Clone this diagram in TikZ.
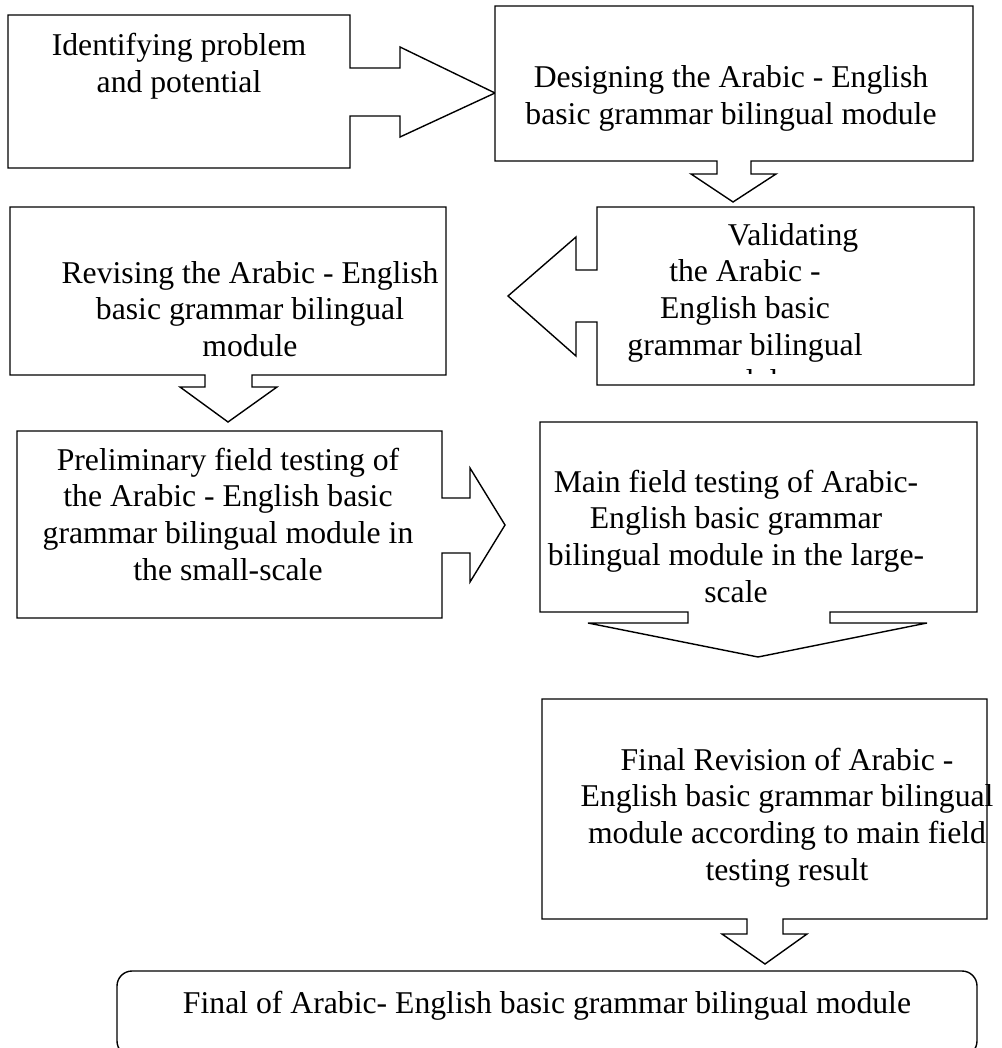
\documentclass[tikz,border=0pt]{standalone}
\usepackage{fontspec}
\setmainfont{Liberation Serif}
\newcommand\mylines[1]{\begin{tabular}[t]{@{}c@{}}#1\end{tabular}}
\tikzset{
  shp/.style={draw=black, line width=0.7pt, line join=miter, fill=white},
  txt/.style={font=\fontsize{15.85}{18.35}\selectfont, inner sep=0pt, anchor=base, text=black}
}
\begin{document}
\begin{tikzpicture}[x=0.5pt,y=-0.5pt]
\clip (0,0) rectangle (1001,1048);
\fill[white] (0,0) rectangle (1001,1048);
% 1 Identifying (right arrow callout)
\draw[shp] (8,15) -- (350,15) -- (350,68) -- (400,68) -- (400,47) -- (495,93) -- (400,137) -- (400,116) -- (350,116) -- (350,168) -- (8,168) -- cycle;
\node[txt] (t1) at (179,56) {\mylines{Identifying problem\\and potential}};
% 2 Designing (down arrow callout)
\draw[shp] (495,6) -- (973,6) -- (973,161) -- (751,161) -- (751,174) -- (776,174) -- (733,202) -- (691,174) -- (717,174) -- (717,161) -- (495,161) -- cycle;
\node[txt] (t2) at (731,88) {\mylines{Designing the Arabic - English\\basic grammar bilingual module}};
% 3 Validating (left arrow callout)
\draw[shp] (597,207) -- (974,207) -- (974,385) -- (597,385) -- (597,322) -- (576,322) -- (576,356) -- (508,296) -- (576,237) -- (576,270) -- (597,270) -- cycle;
\begin{scope}
\clip (597,207) rectangle (974,373);
\node[txt] (t3) at (745,245) {\mylines{\hspace*{48pt}Validating\\the Arabic -\\English basic\\grammar bilingual\\module}};
\end{scope}
% 4 Revising (down arrow callout)
\draw[shp] (10,207) -- (446,207) -- (446,375) -- (252,375) -- (252,387) -- (277,387) -- (228,422) -- (180,387) -- (205,387) -- (205,375) -- (10,375) -- cycle;
\node[txt] (t4) at (250,283) {\mylines{Revising the Arabic - English\\basic grammar bilingual\\module}};
% 5 Preliminary (right arrow callout)
\draw[shp] (17,431) -- (442,431) -- (442,498) -- (470,498) -- (470,468) -- (505,525) -- (470,582) -- (470,553) -- (442,553) -- (442,618) -- (17,618) -- cycle;
\node[txt] (t5) at (228,470) {\mylines{Preliminary field testing of\\the Arabic - English basic\\grammar bilingual module in\\the small-scale}};
% 6 Main field testing (down arrow callout)
\draw[shp] (540,422) -- (977,422) -- (977,612) -- (830,612) -- (830,623) -- (927,623) -- (758,657) -- (588,623) -- (688,623) -- (688,612) -- (540,612) -- cycle;
\node[txt] (t6) at (736,492) {\mylines{Main field testing of Arabic-\\English basic grammar\\bilingual module in the large-\\scale}};
% 7 Final Revision (down arrow callout)
\draw[shp] (542,699) -- (987,699) -- (987,919) -- (783,919) -- (783,934) -- (807,934) -- (765,964) -- (722,934) -- (747,934) -- (747,919) -- (542,919) -- cycle;
\node[txt] (t7) at (787,770) {\mylines{Final Revision of Arabic -\\English basic grammar bilingual\\module according to main field\\testing result}};
% 8 Final module (rounded box)
\draw[shp, rounded corners=7.5pt] (117,971) rectangle (977,1056);
\node[txt] (t8) at (547,1013) {Final of Arabic- English basic grammar bilingual module};
\end{tikzpicture}
\end{document}
